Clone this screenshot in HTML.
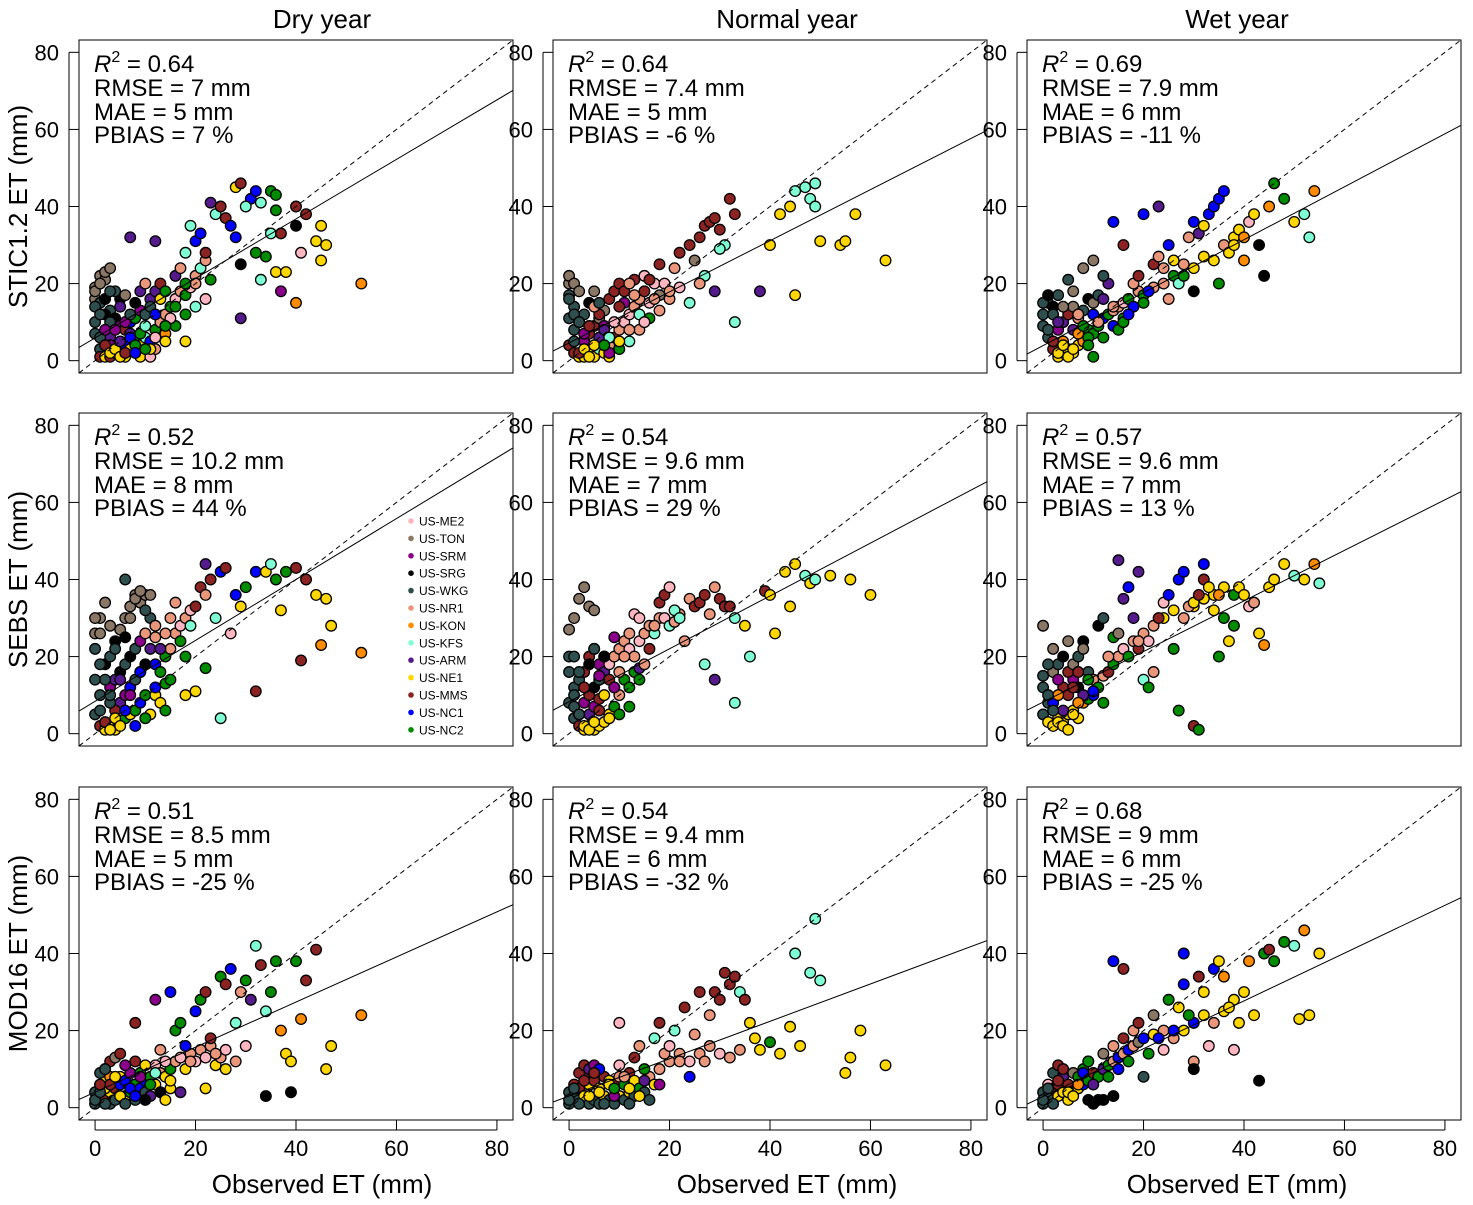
<!DOCTYPE html>
<html><head><meta charset="utf-8"><style>
body{margin:0;background:#fff}
svg text{font-family:"Liberation Sans",Arial,sans-serif;fill:#000}
</style></head><body>
<svg id="fig" width="1473" height="1200" viewBox="0 0 1473 1200" xmlns="http://www.w3.org/2000/svg"></svg>
<script>
const sites=["US-ME2","US-TON","US-SRM","US-SRG","US-WKG","US-NR1","US-KON","US-KFS","US-ARM","US-NE1","US-MMS","US-NC1","US-NC2"];
const siteColors=["#FFB6C1","#8B7765","#8B008B","#000000","#2F4F4F","#E9967A","#FF8C00","#7FFFD4","#551A8B","#FFD700","#8B2323","#0000FF","#008B00"];
const colTitles=["Dry year","Normal year","Wet year"];
const rowTitles=["STIC1.2 ET (mm)","SEBS ET (mm)","MOD16 ET (mm)"];
const ticks=[0,20,40,60,80];
const r2=["0.64","0.64","0.69","0.52","0.54","0.57","0.51","0.54","0.68"];
const rmse=["7","7.4","7.9","10.2","9.6","9.6","8.5","9.4","9"];
const mae=["5","5","6","8","7","7","5","6","6"];
const pbias=["7","-6","-11","44","29","13","-25","-32","-25"];
const slopes=[0.772,0.663,0.687,0.79,0.686,0.656,0.585,0.485,0.62];
const intercepts=[5.9,4.6,3.9,8.4,8.3,8.2,4,3,2.9];
const c11=[[0,16,1],[0,19,1],[1,22,1],[2,21,1],[1,15,4],[0,10,4],[0,7,4],[1,3,4],[1,1,10],[2,1,9],[3,1,10],[4,2,9],[5,3,12],[6,4,11],[7,3,9],[8,5,12],[9,4,9],[10,6,7],[11,5,11],[12,8,12],[13,10,5],[14,12,5],[15,14,12],[16,16,0],[17,18,5],[18,17,12],[19,19,0],[20,22,5],[21,24,7],[3,13,4],[4,11,3],[5,9,2],[6,8,10],[7,10,11],[8,11,12],[9,13,2],[10,12,4],[11,16,8],[12,18,8],[13,20,10],[5,16,3],[4,18,4],[2,12,3],[3,6,8],[6,1,9],[9,1,9],[11,1,0],[12,3,5],[14,7,6],[16,9,12],[18,12,12],[20,14,7],[22,16,0],[3,4,2],[7,7,8]];
const c12=[[0,20,1],[0,17,4],[1,14,4],[0,11,4],[1,8,4],[0,4,10],[1,2,10],[2,1,9],[3,1,9],[4,2,9],[5,1,9],[6,3,7],[7,2,9],[8,4,5],[9,6,10],[10,8,5],[11,10,0],[12,12,0],[13,14,5],[14,16,5],[15,18,10],[16,15,0],[17,20,0],[18,17,1],[3,5,2],[4,7,10],[5,9,10],[6,11,1],[7,13,1],[8,16,10],[9,18,10],[10,20,10],[2,10,8],[3,12,4],[4,15,3],[5,18,1],[6,6,8],[7,9,2],[8,1,9],[10,3,12],[12,5,7],[14,8,5],[16,11,12],[18,13,5],[20,16,5],[22,19,0],[11,15,2],[13,21,10]];
const c13=[[0,12,4],[1,15,4],[0,9,4],[1,6,4],[2,3,10],[3,1,9],[4,2,9],[5,3,9],[6,2,9],[7,4,9],[8,5,6],[9,8,12],[10,7,12],[11,9,12],[12,11,11],[13,12,12],[14,13,5],[15,14,5],[16,15,0],[17,16,12],[18,14,11],[19,18,5],[20,17,12],[22,19,5],[24,20,5],[3,8,2],[4,10,8],[5,12,10],[6,14,1],[7,11,5],[8,13,4],[9,16,3],[10,15,1],[11,17,4],[2,14,3],[3,17,4],[4,5,6],[6,8,8],[12,6,12],[14,9,11],[16,11,12],[26,22,12],[28,25,5],[30,24,9],[32,27,9],[34,26,9],[36,30,5],[38,32,9]];
const c21=[[0,22,4],[0,26,1],[1,30,1],[0,14,4],[1,10,4],[0,5,4],[1,2,10],[2,1,9],[3,2,9],[4,1,9],[5,3,11],[6,4,12],[7,5,9],[8,6,12],[9,8,11],[10,10,12],[2,18,3],[3,20,4],[4,24,3],[5,27,1],[6,30,1],[7,33,1],[8,36,1],[9,34,1],[10,36,1],[11,30,4],[12,25,5],[3,12,2],[4,14,8],[5,16,3],[6,18,4],[7,20,3],[8,22,4],[9,24,2],[10,26,5],[11,22,8],[12,18,11],[13,16,12],[14,20,12],[15,22,5],[16,26,5],[17,28,0],[18,30,5],[19,32,0],[5,8,8],[6,10,2],[7,12,11],[8,14,4],[9,16,3],[4,6,10],[3,8,4],[12,10,9],[14,13,12],[11,5,9],[13,8,9]];
const c22=[[0,20,4],[0,16,4],[1,12,4],[0,8,4],[1,4,4],[2,2,10],[3,1,9],[4,2,9],[5,1,9],[6,2,9],[7,3,9],[8,5,9],[9,7,12],[2,14,4],[3,16,10],[4,20,10],[5,22,10],[6,18,2],[7,16,8],[8,14,10],[9,12,2],[10,10,5],[3,8,2],[4,10,10],[5,12,3],[6,14,4],[7,20,10],[8,18,0],[9,20,5],[10,22,5],[11,24,5],[12,22,0],[13,20,5],[14,24,0],[15,26,5],[16,28,5],[17,26,7],[18,30,5],[19,30,0],[20,28,7],[21,29,5],[22,31,5],[4,5,8],[5,7,2],[6,9,10],[2,5,10],[1,7,4],[11,14,12],[12,12,12],[13,16,12],[14,17,8]];
const c23=[[0,15,4],[0,12,4],[1,8,4],[0,5,4],[1,3,9],[2,2,9],[3,4,9],[4,3,9],[5,5,9],[6,6,9],[7,4,9],[8,8,6],[9,9,12],[10,10,11],[2,16,1],[3,18,4],[4,12,10],[5,10,10],[6,14,2],[7,12,3],[8,10,8],[9,16,4],[10,14,5],[11,12,12],[12,15,5],[13,16,10],[14,18,12],[15,20,5],[16,22,0],[17,20,12],[18,24,5],[19,22,10],[20,26,5],[21,24,0],[22,28,5],[2,8,11],[3,10,6],[4,6,8],[5,16,10],[6,18,1],[7,20,4],[8,24,3],[24,30,9],[26,32,9],[28,30,5],[30,33,9],[32,35,9],[34,36,9],[36,38,9],[38,36,12]];
const c31=[[0,4,4],[0,1,4],[1,2,4],[1,6,10],[2,3,10],[2,7,9],[3,4,9],[3,1,4],[4,5,10],[4,2,4],[5,6,11],[5,8,9],[6,3,9],[6,7,11],[7,4,12],[7,9,2],[8,6,12],[8,2,4],[9,5,11],[9,9,12],[10,7,11],[10,4,4],[11,8,12],[11,3,8],[12,6,9],[12,11,0],[13,9,5],[13,4,3],[14,8,9],[15,10,12],[15,5,9],[16,12,5],[17,13,0],[18,10,9],[19,14,5],[20,12,0],[21,15,5],[22,13,0],[23,16,5],[24,11,9],[25,13,5],[26,15,0],[28,12,5],[30,16,0],[2,10,10],[3,12,10],[4,13,1],[1,9,4],[6,11,2],[8,12,10],[2,5,9],[3,8,6]];
const c32=[[0,1,4],[0,4,4],[1,3,4],[1,6,10],[2,2,4],[2,5,10],[3,3,9],[3,8,10],[4,1,4],[4,6,9],[5,2,4],[5,7,10],[6,1,4],[6,5,9],[7,3,9],[7,8,10],[8,2,4],[8,7,9],[9,1,4],[9,6,10],[10,3,9],[10,8,5],[11,2,4],[11,6,12],[12,4,9],[12,9,10],[13,3,4],[13,7,9],[14,5,12],[15,4,4],[16,8,5],[17,6,9],[18,10,5],[20,12,5],[22,14,5],[24,12,0],[26,14,5],[28,16,5],[30,14,0],[32,13,5],[34,15,5],[2,9,10],[3,11,10],[4,10,8],[5,11,2],[6,10,11]];
const c33=[[0,1,4],[0,4,4],[1,3,4],[1,6,0],[2,2,4],[2,5,10],[3,3,9],[3,6,10],[4,4,9],[4,8,8],[5,2,9],[5,6,10],[6,4,6],[6,9,1],[7,5,9],[7,8,12],[8,6,11],[8,10,12],[9,7,12],[10,9,10],[11,8,12],[12,10,8],[13,11,12],[14,12,5],[15,13,11],[16,14,5],[17,15,11],[18,16,5],[19,17,1],[20,18,11],[22,19,9],[24,20,5],[26,18,5],[28,20,9],[30,22,11],[32,24,9],[34,22,5],[36,25,9],[38,28,9],[2,9,4],[3,11,10],[10,1,3],[12,2,3],[14,3,3],[9,12,8]];
const p11=[[0,18,1],[1,20,1],[2,23,1],[3,24,1],[0,14,4],[1,12,4],[2,16,3],[3,10,4],[1,6,4],[2,4,10],[3,2,9],[4,3,9],[5,1,9],[6,2,10],[5,5,8],[4,8,2],[6,10,2],[7,12,4],[7,6,11],[8,4,12],[9,7,12],[10,9,7],[8,15,3],[6,17,1],[9,18,8],[11,14,4],[10,20,5],[12,12,11],[13,16,9],[14,18,12],[15,11,0],[12,6,0],[11,3,9],[7,32,8],[12,31,8],[16,22,8],[17,24,5],[18,28,7],[19,35,7],[20,31,11],[21,33,11],[22,26,5],[20,20,5],[23,21,12],[22,28,10],[24,38,7],[23,41,8],[25,40,10],[26,37,10],[27,35,11],[28,32,11],[28,45,9],[29,46,10],[31,42,11],[32,44,11],[30,40,7],[33,41,7],[35,44,12],[36,39,12],[36,43,12],[35,33,7],[37,33,10],[32,28,12],[34,27,12],[40,40,10],[42,38,10],[40,35,3],[33,21,7],[36,23,9],[38,23,9],[37,18,2],[29,25,3],[18,5,9],[14,5,9],[40,15,6],[45,35,9],[44,31,9],[46,30,9],[45,26,9],[53,20,6],[41,28,0],[29,11,8],[18,20,12],[16,14,12],[14,9,12],[10,3,12],[8,2,11],[5,14,8],[3,18,4],[2,8,2]];
const p12=[[0,22,1],[1,20,1],[2,18,1],[0,16,4],[1,12,4],[2,10,4],[1,5,4],[2,2,10],[3,3,9],[4,1,9],[5,4,9],[3,7,2],[4,9,10],[6,12,10],[5,14,5],[7,8,8],[8,6,7],[9,10,0],[10,14,10],[11,18,10],[12,20,5],[13,17,5],[14,12,7],[15,22,0],[16,21,10],[17,16,5],[18,25,10],[19,20,0],[20,18,5],[21,24,5],[22,28,10],[24,30,10],[25,26,1],[26,32,10],[27,35,10],[28,36,10],[29,37,10],[30,34,10],[32,42,10],[33,38,10],[31,30,7],[30,29,7],[27,22,7],[26,20,5],[29,18,8],[24,15,7],[33,10,7],[38,18,8],[40,30,9],[42,38,9],[44,40,9],[45,44,7],[47,45,7],[49,46,7],[48,42,7],[49,40,7],[45,17,9],[50,31,9],[54,30,9],[55,31,9],[57,38,9],[63,26,9],[15,10,0],[12,8,5],[8,2,2],[6,15,4],[10,5,9],[7,4,12]];
const p13=[[0,15,4],[1,17,3],[2,12,4],[1,8,4],[2,5,10],[3,2,9],[4,4,9],[5,1,9],[6,3,9],[7,7,6],[3,10,8],[4,14,1],[6,18,1],[7,12,5],[8,9,12],[9,6,12],[10,12,11],[11,10,5],[12,16,8],[13,20,8],[14,14,5],[15,8,12],[16,10,12],[17,12,11],[18,20,5],[19,22,10],[20,15,12],[21,18,11],[22,25,10],[23,27,5],[24,24,5],[25,30,11],[26,26,9],[27,20,7],[28,22,12],[29,32,5],[30,36,11],[31,33,8],[32,35,9],[33,38,11],[34,40,11],[35,42,11],[36,44,11],[37,28,9],[38,30,9],[39,34,9],[40,32,6],[41,36,0],[42,38,9],[43,30,3],[44,22,3],[45,40,6],[46,46,12],[48,42,12],[50,36,9],[52,38,7],[54,44,6],[53,32,7],[23,40,8],[20,38,11],[16,30,10],[14,36,11],[10,26,1],[8,24,1],[12,22,4],[5,21,4],[9,4,12],[10,1,12],[30,18,3],[35,20,12],[40,26,6],[25,16,5]];
const p21=[[0,30,1],[1,26,1],[2,34,1],[3,28,1],[1,18,4],[2,14,4],[3,10,4],[1,6,4],[2,3,10],[3,1,9],[4,4,9],[5,2,9],[6,6,11],[7,10,2],[5,14,8],[4,22,4],[6,25,3],[7,30,1],[8,35,1],[9,37,1],[10,32,4],[11,36,1],[12,28,5],[13,22,8],[14,26,5],[15,30,5],[16,34,5],[17,24,12],[18,20,12],[19,28,7],[20,33,10],[21,38,10],[22,36,5],[23,40,10],[22,44,8],[24,30,7],[25,42,11],[26,43,10],[28,36,11],[30,38,12],[32,42,11],[34,42,9],[35,44,7],[36,40,12],[38,42,12],[40,43,10],[42,40,10],[44,36,9],[46,35,9],[47,28,9],[45,23,6],[41,19,10],[53,21,6],[32,11,10],[25,4,7],[22,17,12],[18,10,9],[14,6,12],[10,4,12],[8,2,11],[12,12,11],[9,16,11],[15,14,12],[20,11,9],[29,33,9],[27,26,0],[37,32,9],[6,40,4],[10,18,3]];
const p22=[[0,27,1],[1,30,1],[2,35,1],[3,38,1],[4,33,1],[5,32,1],[1,20,4],[2,16,4],[1,10,4],[2,5,4],[3,2,9],[4,1,9],[5,3,9],[6,6,10],[3,12,10],[4,18,3],[5,22,4],[6,15,2],[7,10,9],[8,4,9],[9,12,2],[10,16,5],[11,20,5],[12,26,5],[13,31,0],[14,30,0],[15,18,5],[16,22,10],[17,28,5],[18,34,10],[19,36,10],[20,38,0],[21,32,7],[22,30,7],[23,24,5],[24,35,5],[25,33,10],[26,34,10],[27,36,10],[28,31,5],[29,38,5],[30,35,10],[31,33,10],[32,33,10],[33,30,7],[35,28,9],[36,20,7],[33,8,7],[39,37,10],[40,36,9],[43,42,9],[45,44,9],[47,41,7],[48,39,9],[49,40,7],[52,41,9],[56,40,9],[60,36,9],[41,26,9],[44,33,9],[29,14,8],[27,18,7],[12,7,12],[10,5,12],[7,20,3],[9,25,2],[14,14,12]];
const p23=[[0,28,1],[1,18,4],[2,22,1],[1,10,4],[2,6,4],[3,3,9],[4,2,9],[5,1,9],[6,5,9],[7,8,6],[3,14,2],[4,20,3],[5,24,1],[6,12,10],[7,16,10],[8,22,1],[9,14,12],[10,11,11],[11,28,3],[12,30,4],[13,20,5],[14,25,12],[15,26,1],[16,35,8],[17,38,11],[18,30,8],[19,24,5],[20,14,7],[21,12,12],[22,16,5],[23,30,10],[24,34,0],[25,36,11],[26,22,12],[27,40,11],[28,42,11],[29,33,5],[30,34,9],[31,36,10],[32,40,10],[33,38,9],[34,32,9],[35,36,6],[36,30,12],[37,24,9],[38,28,12],[39,38,9],[40,36,9],[41,33,0],[42,34,5],[43,26,9],[44,23,6],[45,38,9],[46,40,9],[48,44,9],[50,41,7],[52,40,9],[54,44,6],[55,39,7],[30,2,10],[31,1,12],[27,6,12],[15,45,8],[19,42,8],[32,44,11],[35,20,12],[12,8,12]];
const p31=[[0,2,4],[1,4,4],[2,1,4],[3,6,10],[4,8,9],[5,3,9],[6,1,4],[7,5,11],[8,3,11],[9,8,2],[10,11,9],[11,6,12],[12,9,7],[13,15,5],[14,12,0],[15,7,9],[16,20,12],[17,22,12],[18,16,11],[19,12,5],[20,25,11],[21,28,12],[22,30,10],[23,18,10],[24,14,5],[25,34,12],[26,32,10],[27,36,11],[28,22,7],[29,30,5],[30,33,12],[31,28,8],[32,42,7],[33,37,10],[34,25,7],[35,30,12],[36,38,12],[37,20,6],[38,14,9],[39,12,9],[40,38,12],[41,23,6],[42,33,10],[44,41,10],[46,10,9],[47,16,9],[53,24,6],[34,3,3],[39,4,3],[26,10,9],[22,5,9],[17,4,8],[14,2,9],[10,2,3],[2,10,4],[1,6,10],[5,14,10],[12,28,2],[15,30,11],[8,22,10]];
const p32=[[0,2,4],[1,5,4],[2,1,4],[3,7,10],[4,3,9],[5,9,10],[6,4,9],[7,1,4],[8,6,9],[9,3,2],[10,11,0],[11,8,5],[12,5,9],[13,13,10],[14,16,5],[15,10,12],[16,2,4],[17,18,7],[18,22,10],[19,14,5],[20,16,0],[21,20,7],[22,12,5],[23,26,10],[24,8,11],[25,19,5],[26,30,10],[27,12,5],[28,24,5],[29,30,10],[30,28,10],[31,35,10],[32,32,10],[33,34,10],[34,30,7],[35,28,10],[36,22,9],[37,18,9],[38,15,9],[40,17,12],[42,14,9],[44,21,9],[45,40,7],[46,16,9],[48,35,7],[49,49,7],[50,33,7],[55,9,9],[56,13,9],[58,20,9],[63,11,9],[18,6,2],[15,7,8],[10,22,0],[9,5,12],[14,3,9],[12,1,4]];
const p33=[[0,2,4],[1,5,4],[2,1,4],[3,7,10],[4,10,10],[5,4,9],[6,3,9],[7,6,6],[8,9,11],[9,12,12],[10,6,8],[11,2,3],[12,14,1],[13,8,12],[14,16,5],[15,10,11],[16,18,10],[17,12,12],[18,20,5],[19,22,10],[20,8,4],[21,14,12],[22,24,1],[23,18,11],[24,15,0],[25,28,12],[26,20,11],[27,26,9],[28,32,11],[29,24,12],[30,12,5],[31,34,10],[32,30,9],[33,16,0],[34,36,11],[35,38,9],[36,34,6],[37,26,9],[38,15,0],[39,22,9],[40,30,9],[41,38,6],[42,24,9],[43,7,3],[44,40,12],[45,41,10],[46,38,12],[48,43,12],[50,42,7],[52,46,6],[51,23,9],[53,24,9],[55,40,9],[14,38,11],[16,36,10],[28,40,11],[30,10,3],[9,2,3]];
const clusters=[c11,c12,c13,c21,c22,c23,c31,c32,c33];
const panels=[p11,p12,p13,p21,p22,p23,p31,p32,p33];

const NS="http://www.w3.org/2000/svg";
const svg=document.getElementById('fig');
function mk(tag,attrs,parent,txt){const e=document.createElementNS(NS,tag);for(const k in attrs)e.setAttribute(k,attrs[k]);if(txt!==undefined)e.textContent=txt;(parent||svg).appendChild(e);return e;}
const boxX=[79,553,1027], boxY=[40,413,787], W=434, H=333;
const titleX=[322,787,1237];
const D0=-3.2, D1=83.2;
const defs=mk('defs',{});
for(let r=0;r<3;r++)for(let c=0;c<3;c++){
  const idx=r*3+c, bx=boxX[c], by=boxY[r];
  const sx=v=>bx+(v-D0)/(D1-D0)*W;
  const sy=v=>by+H-(v-D0)/(D1-D0)*H;
  const cp=mk('clipPath',{id:'clip'+idx},defs);mk('rect',{x:bx,y:by,width:W,height:H},cp);
  const g=mk('g',{});
  
  
  const pg=mk('g',{'clip-path':'url(#clip'+idx+')'},g);
  clusters[idx].concat(panels[idx]).forEach(p=>{
    const e=mk('circle',{cx:sx(p[0]),cy:sy(p[1]),r:5.3,fill:siteColors[p[2]],stroke:'#000','stroke-width':1.3},pg);
    
    
  });
  const l1=mk('line',{x1:sx(D0),y1:sy(D0),x2:sx(D1),y2:sy(D1),stroke:'#000','stroke-width':1,'stroke-dasharray':'5,4'},pg);
  
  
  const l2=mk('line',{x1:sx(D0),y1:sy(intercepts[idx]+slopes[idx]*D0),x2:sx(D1),y2:sy(intercepts[idx]+slopes[idx]*D1),stroke:'#000','stroke-width':1},pg);
  
  
  mk('rect',{x:bx,y:by,width:W,height:H,fill:'none',stroke:'#000','stroke-width':1},g);
  ticks.forEach(t=>{
    mk('line',{x1:bx-10,x2:bx,y1:sy(t),y2:sy(t),stroke:'#000'},g);
    const tl=mk('text',{x:bx-20,y:sy(t)+8,'text-anchor':'end','font-size':22},g,String(t));
    
    
  });
  mk('line',{x1:bx-10,x2:bx-10,y1:sy(0),y2:sy(80),stroke:'#000'},g);
  if(r===2){
    ticks.forEach(t=>{
      mk('line',{x1:sx(t),x2:sx(t),y1:by+H,y2:by+H+10,stroke:'#000'},g);
      const tl=mk('text',{x:sx(t),y:by+H+36,'text-anchor':'middle','font-size':22},g,String(t));
      
      
    });
    mk('line',{x1:sx(0),x2:sx(80),y1:by+H+10,y2:by+H+10,stroke:'#000'},g);
    const xt=mk('text',{x:titleX[c],y:1193,'text-anchor':'middle','font-size':26},g,'Observed ET (mm)');
    
    
  }
  if(r===0){
    const ct=mk('text',{x:titleX[c],y:28,'text-anchor':'middle','font-size':26},g,colTitles[c]);
    
    
  }
  if(c===0){
    const yc=by+H/2;
    const yt=mk('text',{x:27,y:yc,'text-anchor':'middle','font-size':26,transform:'rotate(-90 27 '+yc+')'},g,rowTitles[r]);
    
    
  }
  const st=mk('g',{},g);
  
  
  const t0=mk('text',{x:bx+15,y:by+32,'font-size':24},st);
  mk('tspan',{'font-style':'italic'},t0,'R');
  mk('tspan',{dy:-10,'font-size':16},t0,'2');
  mk('tspan',{dy:10},t0,' = '+r2[idx]);
  mk('text',{x:bx+15,y:by+56,'font-size':24},st,'RMSE = '+rmse[idx]+' mm');
  mk('text',{x:bx+15,y:by+80,'font-size':24},st,'MAE = '+mae[idx]+' mm');
  mk('text',{x:bx+15,y:by+103,'font-size':24},st,'PBIAS = '+pbias[idx]+' %');
}
const lg=mk('g',{});


sites.forEach((s,i)=>{
  const y=521+i*17.4;
  mk('circle',{cx:411,cy:y,r:2.8,fill:siteColors[i]},lg);
  const t=mk('text',{x:419,y:y+4.5,'font-size':12},lg,s);
  
  
});
</script>
</body></html>
